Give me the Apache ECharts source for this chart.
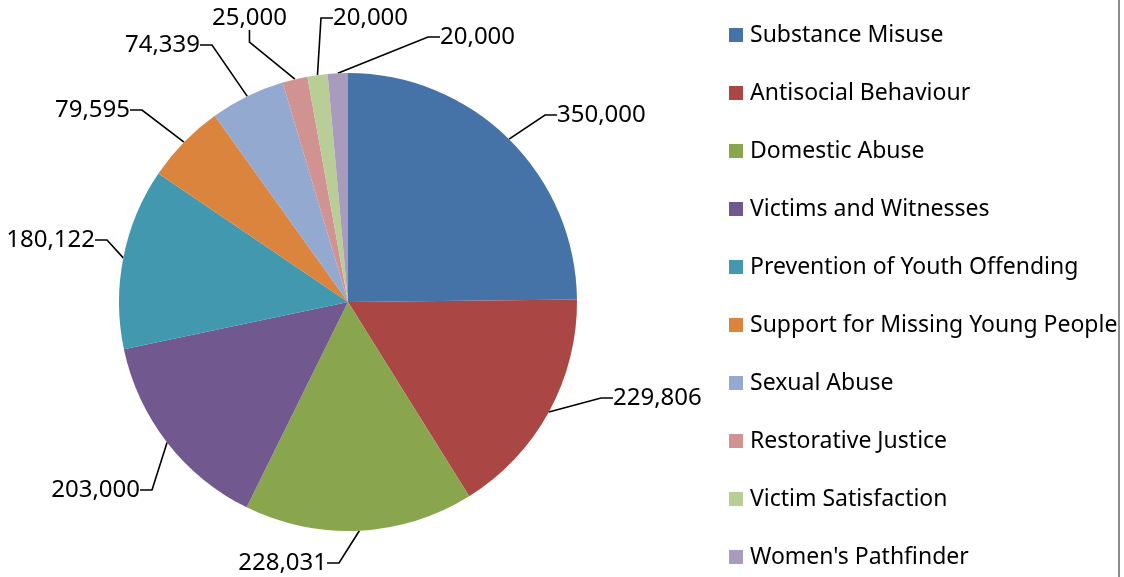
<!DOCTYPE html>
<html>
<head>
<meta charset="utf-8">
<script src="https://cdn.jsdelivr.net/npm/echarts@6/dist/echarts.min.js"></script>
<style>html,body{margin:0;padding:0;background:#fff}#c{width:1124px;height:577px}</style>
</head>
<body>
<div id="c"></div>
<script>
const categories = ["Substance Misuse","Antisocial Behaviour","Domestic Abuse","Victims and Witnesses","Prevention of Youth Offending","Support for Missing Young People","Sexual Abuse","Restorative Justice","Victim Satisfaction","Women's Pathfinder"];
const values = [350000,229806,228031,203000,180122,79595,74339,25000,20000,20000];
const colors = ["#4572A7","#AA4643","#89A54E","#71588F","#4198AF","#DB843D","#93A9CF","#D19392","#B9CD96","#A99BBD"];
const titleText = "Category";

// label placement (layout only): anchor x, y and text alignment
const labelPlacement = [
  [557, 115, 'left'], [613, 398, 'left'], [327, 563, 'right'], [140, 490, 'right'],
  [95, 240, 'right'], [130, 110, 'right'], [200, 45, 'right'], [287, 18, 'right'],
  [333, 18, 'left'], [440, 37, 'left']
];

const font = "'Noto Sans', 'Liberation Sans', sans-serif";
const chart = echarts.init(document.getElementById('c'), null, {renderer:'canvas'});
chart.setOption({
  animation: false,
  backgroundColor: '#fff',
  title: {
    text: titleText,
    right: 571,
    top: -37,
    padding: 0,
    textStyle: {fontFamily: font, fontSize: 36, fontWeight: 'bold', color: '#000', lineHeight: 36}
  },
  legend: {
    orient: 'vertical',
    left: 729,
    top: 23,
    itemWidth: 14,
    itemHeight: 14,
    itemGap: 34,
    icon: 'rect',
    padding: 0,
    textStyle: {fontFamily: font, fontSize: 23, color: '#000', lineHeight: 24, padding: [0,0,0,2]},
    data: categories
  },
  color: colors,
  graphic: [{
    type: 'rect', right: 4, top: 0,
    shape: {width: 2, height: 577},
    style: {fill: '#8c8c8c'}
  }],
  series: [{
    type: 'pie',
    center: [348, 302],
    radius: 229,
    startAngle: 90,
    clockwise: true,
    avoidLabelOverlap: false,
    itemStyle: {borderWidth: 0},
    label: {
      show: true,
      position: 'outside',
      overflow: 'none',
      formatter: p => p.value.toLocaleString('en-US'),
      fontFamily: font, fontSize: 24, color: '#000'
    },
    labelLine: {show: true, length: 20, length2: 12, lineStyle: {color: '#000', width: 1.6}},
    labelLayout: p => {
      const pl = labelPlacement[p.dataIndex];
      return {x: pl[0], y: pl[1], align: pl[2], verticalAlign: 'middle'};
    },
    data: categories.map((c,i)=>({name:c, value: values[i]}))
  }]
});
</script>
</body>
</html>
